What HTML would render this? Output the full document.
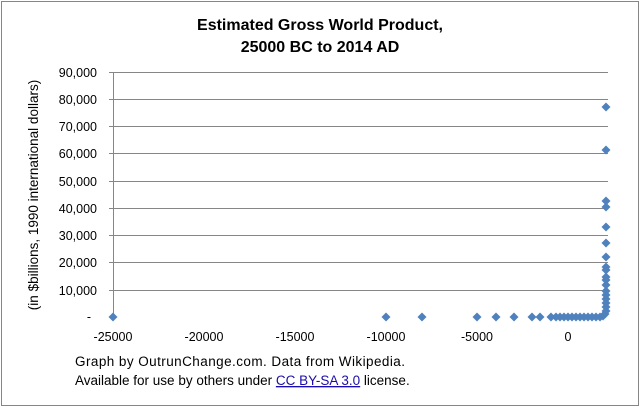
<!DOCTYPE html>
<html><head><meta charset="utf-8"><style>
html,body{margin:0;padding:0;background:#fff}
svg{display:block}
text{font-family:"Liberation Sans",sans-serif}
</style></head><body>
<svg width="640" height="408" viewBox="0 0 640 408" xmlns="http://www.w3.org/2000/svg">
<rect x="1.5" y="1.5" width="637" height="404" fill="#fff" stroke="#868686"/>
<text x="320" y="30" font-size="16" font-weight="bold" text-anchor="middle">Estimated Gross World Product,</text>
<text x="320" y="52" font-size="16" font-weight="bold" text-anchor="middle">25000 BC to 2014 AD</text>
<g stroke="#868686" stroke-width="1">
<line x1="109" y1="72.5" x2="608" y2="72.5"/>
<line x1="109" y1="99.5" x2="608" y2="99.5"/>
<line x1="109" y1="126.5" x2="608" y2="126.5"/>
<line x1="109" y1="153.5" x2="608" y2="153.5"/>
<line x1="109" y1="181.5" x2="608" y2="181.5"/>
<line x1="109" y1="208.5" x2="608" y2="208.5"/>
<line x1="109" y1="235.5" x2="608" y2="235.5"/>
<line x1="109" y1="262.5" x2="608" y2="262.5"/>
<line x1="109" y1="290.5" x2="608" y2="290.5"/>
<line x1="113.5" y1="72" x2="113.5" y2="317"/>
</g>
<g font-size="12.5" text-anchor="end" fill="#000">
<text x="97" y="77">90,000</text><text x="97" y="104">80,000</text><text x="97" y="131">70,000</text>
<text x="97" y="158">60,000</text><text x="97" y="186">50,000</text><text x="97" y="213">40,000</text>
<text x="97" y="240">30,000</text><text x="97" y="267">20,000</text><text x="97" y="295">10,000</text>
<text x="91" y="321">-</text>
</g>
<g font-size="12.5" text-anchor="middle">
<text x="113" y="341">-25000</text><text x="204" y="341">-20000</text><text x="295" y="341">-15000</text>
<text x="386" y="341">-10000</text><text x="477" y="341">-5000</text><text x="568" y="341">0</text>
</g>
<text transform="translate(38,195) rotate(-90)" font-size="13.5" text-anchor="middle">(in $billions, 1990 international dollars)</text>
<defs><path id="d" d="M0,-4.5 L4.5,0 L0,4.5 L-4.5,0Z" fill="#4f81bd"/></defs>
<g>
<use href="#d" x="113" y="317"/><use href="#d" x="386" y="317"/><use href="#d" x="422" y="317"/>
<use href="#d" x="477" y="317"/><use href="#d" x="496" y="317"/><use href="#d" x="514" y="317"/>
<use href="#d" x="532" y="317"/><use href="#d" x="540" y="317"/><use href="#d" x="551" y="317"/>
<use href="#d" x="556" y="317"/><use href="#d" x="560" y="317"/><use href="#d" x="564" y="317"/>
<use href="#d" x="568" y="317"/><use href="#d" x="572" y="317"/><use href="#d" x="576" y="317"/>
<use href="#d" x="580" y="317"/><use href="#d" x="584" y="317"/><use href="#d" x="588" y="317"/>
<use href="#d" x="592" y="317"/><use href="#d" x="596" y="317"/><use href="#d" x="600" y="317"/>
<use href="#d" x="603" y="316"/><use href="#d" x="605" y="314"/>
<use href="#d" x="606" y="311"/><use href="#d" x="606" y="307"/><use href="#d" x="606" y="303"/>
<use href="#d" x="606" y="299"/><use href="#d" x="606" y="295"/><use href="#d" x="606" y="291"/>
<use href="#d" x="606" y="285"/><use href="#d" x="606" y="280"/><use href="#d" x="606" y="277"/>
<use href="#d" x="606" y="270"/><use href="#d" x="606" y="267"/><use href="#d" x="606" y="257"/>
<use href="#d" x="606" y="243"/><use href="#d" x="606" y="227"/><use href="#d" x="606" y="207"/>
<use href="#d" x="606" y="201"/><use href="#d" x="606" y="150"/><use href="#d" x="606" y="107"/>
</g>
<text x="75" y="366" font-size="13.5" textLength="330">Graph by OutrunChange.com. Data from Wikipedia.</text>
<text x="75" y="385" font-size="13.5">Available for use by others under <tspan fill="#1a0dab" text-decoration="underline">CC BY-SA 3.0</tspan> license.</text>
</svg>
</body></html>
